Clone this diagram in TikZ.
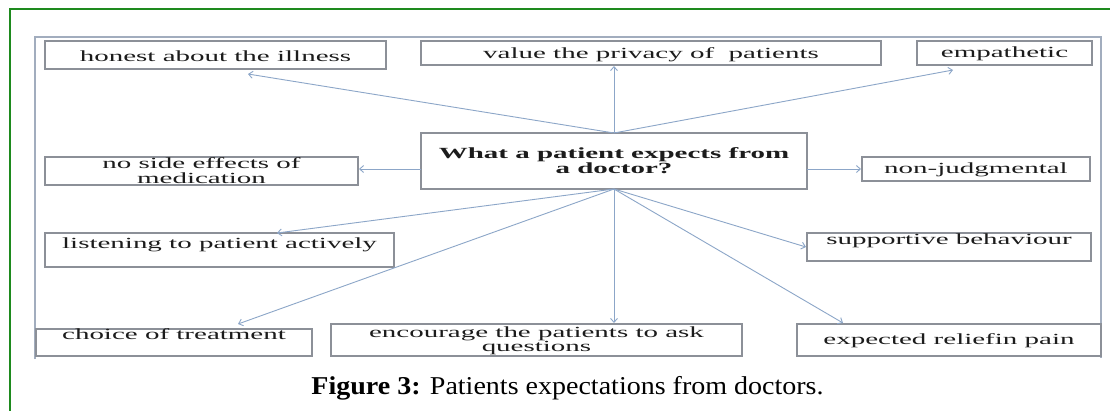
\documentclass[tikz,border=0pt]{standalone}
\usepackage{fontspec}
\usetikzlibrary{arrows.meta,calc}
\newfontfamily\boxfont[FakeStretch=1.87]{Liberation Serif}
\newfontfamily\capfont[FakeStretch=1.09]{Liberation Serif}
\definecolor{frameG}{HTML}{1E8A1E}
\definecolor{frameB}{HTML}{A2ADBE}
\definecolor{boxgray}{HTML}{8C9098}
\definecolor{arrc}{HTML}{8CA6C8}
\definecolor{textc}{HTML}{1C1C1C}
\begin{document}
\begin{tikzpicture}[x=1pt,y=-1pt,
  box/.style={draw=boxgray, line width=1.2pt, inner sep=0pt, outer sep=0pt, text=textc, align=center,
    font=\boxfont\fontsize{15.5}{15}\selectfont},
  arr/.style={draw=arrc, line width=0.9pt, -{Straight Barb[length=4pt,width=7pt]}},
  captext/.style={font=\capfont\fontsize{25.7}{30}\selectfont, text=black, anchor=base, inner sep=0pt}]
\useasboundingbox (0,0) rectangle (1119,410);
\fill[white] (0,0) rectangle (1119,410);
% green outer frame
\draw[frameG, line width=2.6pt] (10,412) -- (10,9) -- (1110,9);
% inner grey frame
\draw[frameB, line width=1.5pt] (35,359) -- (35,37) -- (1101,37) -- (1101,358);
% boxes
\node[box, minimum width=341, minimum height=28, text height=12, text depth=0] (honest) at (215.5,55) {honest about the illness};
\node[box, minimum width=460, minimum height=24, text height=11, text depth=1] (privacy) at (651,53) {value the privacy of \ patients};
\node[box, minimum width=175, minimum height=24, text height=11, text depth=3] (emp) at (1004.5,53) {empathetic};
\node[box, minimum width=386, minimum height=56, text height=26, text depth=2, font=\boxfont\bfseries\fontsize{15.5}{15}\selectfont] (q) at (614,161) {What a patient expects from\\a doctor?};
\node[box, minimum width=313, minimum height=28, text height=26, text depth=2] (noside) at (201.5,171) {no side effects of\\medication};
\node[box, minimum width=228, minimum height=24, text height=11, text depth=3] (nonjud) at (976,169) {non-judgmental};
\node[box, minimum width=349, minimum height=34, text height=11, text depth=15] (listen) at (219.5,250) {listening to patient actively};
\node[box, minimum width=284, minimum height=28, text height=11, text depth=17] (support) at (949,247) {supportive behaviour};
\node[box, minimum width=276, minimum height=27, text height=10, text depth=16] (choice) at (174,342.5) {choice of treatment};
\node[box, minimum width=411, minimum height=32, text height=25, text depth=3, font=\boxfont\fontsize{15.5}{14}\selectfont] (encourage) at (536.5,340) {encourage the patients to ask\\questions};
\node[box, minimum width=304, minimum height=32, text height=11, text depth=3] (relief) at (949,340) {expected reliefin pain};
% connectors
\draw[arr] (q.north) -- ($(honest.south)+(32.5,5)$);
\draw[arr] (q.north) -- ($(q.north |- privacy.south)+(0,1)$);
\draw[arr] (q.north) -- ($(emp.south)+(-51.5,5)$);
\draw[arr] ($(q.west)+(0,8)$) -- ($(noside.east)+(1,-2)$);
\draw[arr] ($(q.east)+(0,8)$) -- ($(nonjud.west)+(-1,0)$);
\draw[arr] (q.south) -- ($(listen.north)+(57.5,0)$);
\draw[arr] (q.south) -- ($(support.west)+(-1,0)$);
\draw[arr] (q.south) -- ($(choice.north)+(64,-5)$);
\draw[arr] (q.south) -- ($(q.south |- encourage.north)+(0,-1)$);
\draw[arr] (q.south) -- ($(relief.north)+(-106,-1)$);
% caption
\node[captext] (caption) at (567.5,394) {\textbf{Figure 3:} Patients expectations from doctors.};
\end{tikzpicture}
\end{document}
